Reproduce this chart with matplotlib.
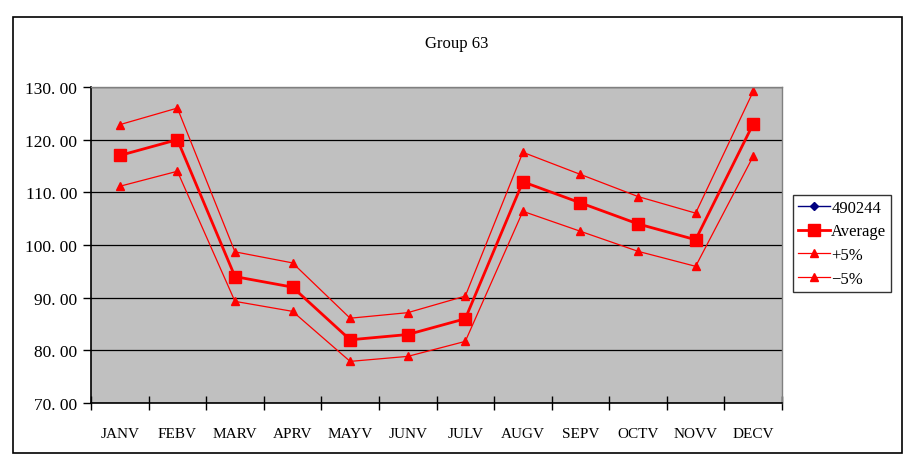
import matplotlib
matplotlib.use("Agg")
import matplotlib.pyplot as plt
import numpy as np
from matplotlib.patches import Rectangle

MONTHS = ["JANV", "FEBV", "MARV", "APRV", "MAYV", "JUNV",
          "JULV", "AUGV", "SEPV", "OCTV", "NOVV", "DECV"]
SERIES_490244 = [np.nan] * 12
AVERAGE = [117, 120, 94, 92, 82, 83, 86, 112, 108, 104, 101, 123]
PLUS_5 = [122.85, 126.0, 98.7, 96.6, 86.1, 87.15, 90.3, 117.6, 113.4, 109.2, 106.05, 129.15]
MINUS_5 = [111.15, 114.0, 89.3, 87.4, 77.9, 78.85, 81.7, 106.4, 102.6, 98.8, 95.95, 116.85]
Y_TICKS = [70, 80, 90, 100, 110, 120, 130]

FONT = "Liberation Serif"
W, H = 914, 464

fig = plt.figure(figsize=(W / 100, H / 100), dpi=100)
# outer chart frame
fig.patches.append(Rectangle((13 / W, 1 - 454 / H), (902 - 13) / W, (454 - 18) / H,
                             transform=fig.transFigure, fill=False,
                             edgecolor="black", linewidth=1.2))

ax = fig.add_axes([91 / W, 1 - 404 / H, (782 - 91) / W, (404 - 88) / H])
ax.set_facecolor("#c0c0c0")
x = np.arange(len(MONTHS))

ax.plot(x, SERIES_490244, color="#000080", marker="D", markersize=4,
        linewidth=1, label="490244")
ax.plot(x, AVERAGE, color="red", marker="s", markersize=8,
        linewidth=2, label="Average")
ax.plot(x, PLUS_5, color="red", marker="^", markersize=5.5,
        linewidth=0.9, label="+5%")
ax.plot(x, MINUS_5, color="red", marker="^", markersize=5.5,
        linewidth=0.9, label="\u22125%")

ax.set_xlim(-0.5, len(MONTHS) - 0.5)
ax.set_ylim(70, 130)
ax.set_yticks(Y_TICKS)
ax.set_yticklabels([f"{v:.2f}".replace(".", ". ") for v in Y_TICKS],
                   fontfamily=FONT, fontsize=12.5)
ax.yaxis.grid(True, color="black", linewidth=0.9)
ax.set_axisbelow(True)

ax.set_xticks(x)
ax.set_xticklabels(MONTHS, fontfamily=FONT, fontsize=11)
ax.set_xticks(np.arange(-0.5, len(MONTHS)), minor=True)
ax.tick_params(axis="x", which="major", length=0, pad=17)
ax.tick_params(axis="x", which="minor", direction="inout", length=10, width=1)
ax.tick_params(axis="y", direction="out", length=6, width=1, pad=4)

for side in ("top", "right"):
    ax.spines[side].set_color("#808080")
    ax.spines[side].set_linewidth(1)
for side in ("left", "bottom"):
    ax.spines[side].set_color("black")
    ax.spines[side].set_linewidth(1.2)

fig.text(457 / W, 1 - 44 / H, "Group 63", ha="center", va="center",
         fontfamily=FONT, fontsize=12)

leg = ax.legend(loc="upper left", bbox_to_anchor=(793 / W, 1 - 196 / H),
                bbox_transform=fig.transFigure, prop={"family": FONT, "size": 12},
                frameon=True, fancybox=False, edgecolor="black",
                borderpad=0.3, labelspacing=0.45, handlelength=1.9,
                handletextpad=0.1, borderaxespad=0)
leg.get_frame().set_linewidth(1)

fig.savefig("out.png", dpi=100, facecolor="white")
